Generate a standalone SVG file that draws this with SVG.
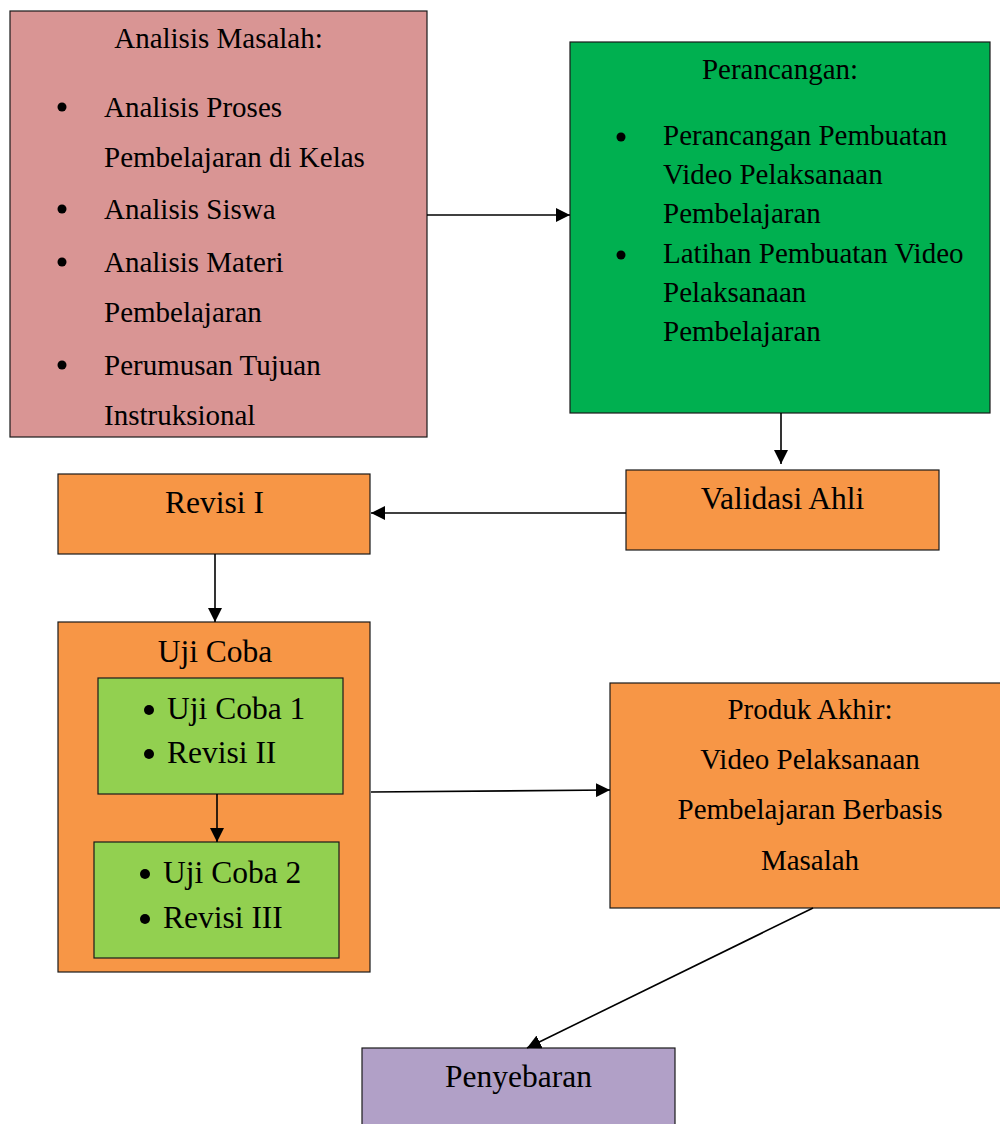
<svg xmlns="http://www.w3.org/2000/svg" width="1000" height="1124" viewBox="0 0 1000 1124">
<defs>
<style>
.box{stroke:#1a1a1a;stroke-width:1.2}
.t{font-family:"Liberation Serif","Times New Roman",serif;fill:#000}
.f29{font-size:29px}
.f31{font-size:31.5px}
.c{text-anchor:middle}
.conn{stroke:#000;stroke-width:1.6;fill:none}
</style>
<marker id="ah" markerUnits="userSpaceOnUse" markerWidth="14" markerHeight="14" viewBox="0 0 14 14" refX="14" refY="7" orient="auto">
<path d="M0,0 L14,7 L0,14 Z" fill="#000"/>
</marker>
</defs>
<rect width="1000" height="1124" fill="#fff"/>

<g id="analisis">
<rect class="box" x="10" y="11" width="417" height="426" fill="#d99594"/>
<text class="t f29 c" x="218.5" y="48">Analisis Masalah:</text>
<circle cx="62" cy="107" r="4.5"/>
<circle cx="62" cy="209" r="4.5"/>
<circle cx="62" cy="262" r="4.5"/>
<circle cx="62" cy="365" r="4.5"/>
<text class="t f29" x="104" y="117">Analisis Proses</text>
<text class="t f29" x="104" y="167">Pembelajaran di Kelas</text>
<text class="t f29" x="104" y="219">Analisis Siswa</text>
<text class="t f29" x="104" y="272">Analisis Materi</text>
<text class="t f29" x="104" y="322">Pembelajaran</text>
<text class="t f29" x="104" y="375">Perumusan Tujuan</text>
<text class="t f29" x="104" y="425">Instruksional</text>
</g>

<g id="perancangan">
<rect class="box" x="570" y="42" width="420" height="371" fill="#00b050"/>
<text class="t f29 c" x="780" y="79">Perancangan:</text>
<circle cx="621" cy="137" r="4.5"/>
<circle cx="621" cy="255" r="4.5"/>
<text class="t f29" x="663" y="145">Perancangan Pembuatan</text>
<text class="t f29" x="663" y="184">Video Pelaksanaan</text>
<text class="t f29" x="663" y="223">Pembelajaran</text>
<text class="t f29" x="663" y="263">Latihan Pembuatan Video</text>
<text class="t f29" x="663" y="302">Pelaksanaan</text>
<text class="t f29" x="663" y="341">Pembelajaran</text>
</g>

<g id="validasi">
<rect class="box" x="626" y="470" width="313" height="80" fill="#f79646"/>
<text class="t f31 c" x="782.5" y="509">Validasi Ahli</text>
</g>

<g id="revisi1">
<rect class="box" x="58" y="474" width="312" height="80" fill="#f79646"/>
<text class="t f31 c" x="214.5" y="513">Revisi I</text>
</g>

<g id="ujicoba">
<rect class="box" x="58" y="622" width="312" height="350" fill="#f79646"/>
<text class="t f31 c" x="215" y="662">Uji Coba</text>
</g>

<g id="ujicoba1">
<rect class="box" x="98" y="678" width="245" height="116" fill="#92d050"/>
<circle cx="149" cy="710" r="5"/>
<circle cx="149" cy="754" r="5"/>
<text class="t f31" x="167" y="719">Uji Coba 1</text>
<text class="t f31" x="167" y="763">Revisi II</text>
</g>

<g id="ujicoba2">
<rect class="box" x="94" y="842" width="245" height="116" fill="#92d050"/>
<circle cx="145" cy="874" r="5"/>
<circle cx="145" cy="919" r="5"/>
<text class="t f31" x="163" y="883">Uji Coba 2</text>
<text class="t f31" x="163" y="928">Revisi III</text>
</g>

<g id="produk">
<rect class="box" x="610" y="683" width="400" height="225" fill="#f79646"/>
<text class="t f29 c" x="810" y="719">Produk Akhir:</text>
<text class="t f29 c" x="810" y="769">Video Pelaksanaan</text>
<text class="t f29 c" x="810" y="819">Pembelajaran Berbasis</text>
<text class="t f29 c" x="810" y="870">Masalah</text>
</g>

<g id="penyebaran">
<rect class="box" x="362" y="1048" width="313" height="90" fill="#b1a0c7"/>
<text class="t f31 c" x="518.5" y="1087">Penyebaran</text>
</g>

<g id="connectors">
<line class="conn" x1="427" y1="215" x2="570" y2="215" marker-end="url(#ah)"/>
<line class="conn" x1="781" y1="413" x2="781" y2="464" marker-end="url(#ah)"/>
<line class="conn" x1="626" y1="513" x2="371" y2="513" marker-end="url(#ah)"/>
<line class="conn" x1="215" y1="554" x2="215" y2="622" marker-end="url(#ah)"/>
<line class="conn" x1="217" y1="794" x2="217" y2="842" marker-end="url(#ah)"/>
<line class="conn" x1="371" y1="792" x2="610" y2="790" marker-end="url(#ah)"/>
<line class="conn" x1="813" y1="908" x2="527" y2="1048" marker-end="url(#ah)"/>
</g>
</svg>
